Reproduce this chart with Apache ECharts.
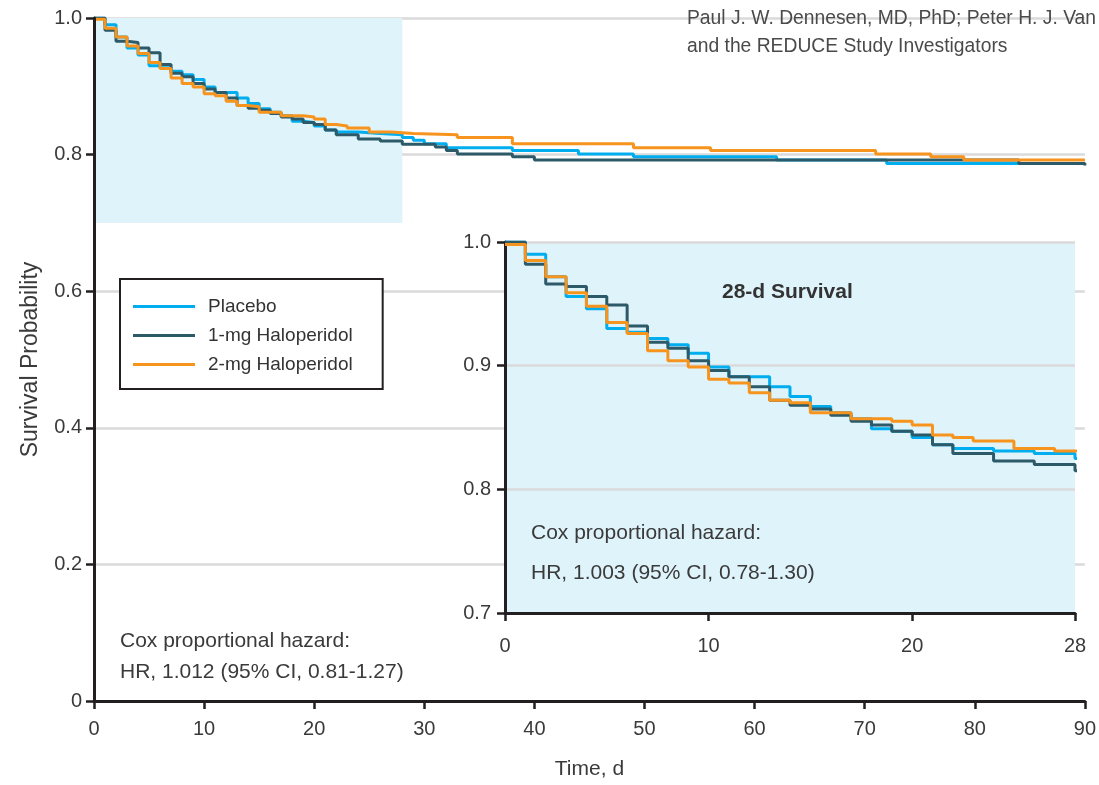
<!DOCTYPE html>
<html>
<head>
<meta charset="utf-8">
<script src="https://cdn.jsdelivr.net/npm/echarts@6/dist/echarts.min.js"></script>
<style>
html,body{margin:0;padding:0;background:#fff;}
#c{width:1099px;height:785px;}
</style>
</head>
<body>
<div id="c"></div>
<script>
// ---- data ----
const seriesNames = ['Placebo', '1-mg Haloperidol', '2-mg Haloperidol'];

const placeboT = [0,1,2,3,4,5,6,7,8,9,10,11,13,14,15,16,17,18,19,20,21,22,24,26,28,29,30,32,38,44,49,62,72,90];
const placeboS = [1.000,0.990,0.972,0.956,0.946,0.930,0.927,0.922,0.917,0.910,0.899,0.891,0.883,0.875,0.867,0.862,0.857,0.849,0.847,0.842,0.836,0.833,0.831,0.829,0.825,0.821,0.816,0.810,0.806,0.801,0.797,0.792,0.787,0.787];

const halo1T = [0,1,2,3,4,5,6,7,8,9,10,11,12,13,14,15,16,17,18,19,20,21,22,24,26,28,31,32,33,38,40,84,90];
const halo1S = [1.000,0.982,0.966,0.964,0.956,0.949,0.932,0.919,0.914,0.904,0.896,0.891,0.883,0.872,0.868,0.865,0.860,0.855,0.852,0.847,0.844,0.836,0.829,0.823,0.820,0.815,0.811,0.806,0.801,0.797,0.792,0.787,0.784];

const halo2T = [0,1,2,3,4,5,6,7,8,9,10,11,12,13,14,15,17,19,20,21,22,23,25,27,29,33,38,49,56,71,76,79,90];
const halo2S = [0.998,0.985,0.972,0.959,0.948,0.935,0.926,0.912,0.904,0.899,0.889,0.886,0.878,0.872,0.870,0.862,0.857,0.855,0.852,0.844,0.842,0.839,0.833,0.831,0.829,0.825,0.816,0.810,0.806,0.801,0.797,0.792,0.791];

const mainXTicks = [0, 90, 10];      // min, max, interval
const mainYTicks = [0, 1, 0.2];
const insetXTicks = [0, 28, 10];
const insetYTicks = [0.7, 1.0, 0.1];
const shadeX = [0, 28];
const shadeY = [0.7, 1.0];

const headerLines = ['Paul J. W. Dennesen, MD, PhD; Peter H. J. Van', 'and the REDUCE Study Investigators'];
const mainCox = ['Cox proportional hazard:', 'HR, 1.012 (95% CI, 0.81-1.27)'];
const insetCox = ['Cox proportional hazard:', 'HR, 1.003 (95% CI, 0.78-1.30)'];
const insetTitle = '28-d Survival';

// ---- styling ----
const colors = ['#00aeef', '#2d5a68', '#f7941d'];
const FONT = "'Liberation Sans', Arial, sans-serif";
const AXIS = '#231f20';
const LABEL = '#3a3a3a';
const GRIDC = '#dadada';

const pairs = (t, s) => t.map((v, i) => [v, s[i]]);
const allData = [pairs(placeboT, placeboS), pairs(halo1T, halo1S), pairs(halo2T, halo2S)];

const fmt = v => (v === 0 ? '0' : v.toFixed(1));

function axisCommon(extra) {
  return Object.assign({
    type: 'value',
    axisLine: { show: true, onZero: false, lineStyle: { color: AXIS, width: 3 } },
    axisTick: { show: true, length: 8, lineStyle: { color: AXIS, width: 2.5 } },
    axisLabel: { color: LABEL, fontSize: 20, fontFamily: FONT },
    splitLine: { show: false },
    nameTextStyle: { color: LABEL, fontSize: 21, fontFamily: FONT }
  }, extra);
}

const chart = echarts.init(document.getElementById('c'), null, { renderer: 'canvas' });

const series = [];
// shaded 28-day window on the main chart
series.push({
  type: 'line', xAxisIndex: 0, yAxisIndex: 0, data: [], z: 1, silent: true,
  markArea: {
    silent: true,
    itemStyle: { color: '#dff3fb' },
    data: [[{ xAxis: shadeX[0], yAxis: shadeY[0] }, { xAxis: shadeX[1], yAxis: shadeY[1] }]]
  }
});
// main curves
allData.forEach((d, i) => series.push({
  name: seriesNames[i], type: 'line', step: 'end', data: d,
  xAxisIndex: 0, yAxisIndex: 0, symbol: 'none', z: 2,
  lineStyle: { color: colors[i], width: 3 }, itemStyle: { color: colors[i] }
}));
// inset curves
allData.forEach((d, i) => series.push({
  name: seriesNames[i], type: 'line', step: 'end', data: d, clip: true,
  xAxisIndex: 1, yAxisIndex: 2, symbol: 'none', z: 3,
  lineStyle: { color: colors[i], width: 3 }, itemStyle: { color: colors[i] }
}));

const txt = (left, top, text, extra) => ({
  type: 'text', left: left, top: top, z: 10,
  style: Object.assign({ text: text, fill: LABEL, font: '21px ' + FONT }, extra || {})
});

chart.setOption({
  animation: false,
  backgroundColor: '#ffffff',
  grid: [
    { left: 94, top: 18, width: 995, height: 686, z: 0 },
    { left: 505, top: 242, width: 570, height: 371, show: true, backgroundColor: '#dff3fb', borderWidth: 0, z: 1 }
  ],
  xAxis: [
    axisCommon({ gridIndex: 0, z: 3, min: mainXTicks[0], max: mainXTicks[1], interval: mainXTicks[2],
      name: 'Time, d', nameLocation: 'middle', nameGap: 58,
      axisLabel: { color: LABEL, fontSize: 20, fontFamily: FONT, margin: 18 } }),
    axisCommon({ gridIndex: 1, z: 2, min: insetXTicks[0], max: insetXTicks[1], interval: insetXTicks[2],
      axisLabel: { color: LABEL, fontSize: 20, fontFamily: FONT, margin: 23 } })
  ],
  yAxis: [
    axisCommon({ gridIndex: 0, z: 3, min: mainYTicks[0], max: mainYTicks[1], interval: mainYTicks[2],
      name: 'Survival Probability', nameLocation: 'middle', nameGap: 52,
      nameTextStyle: { color: LABEL, fontSize: 23, fontFamily: FONT },
      axisLabel: { color: LABEL, fontSize: 20, fontFamily: FONT, margin: 12, formatter: fmt } }),
    { type: 'value', gridIndex: 0, z: 0, min: mainYTicks[0], max: mainYTicks[1], interval: mainYTicks[2],
      axisLine: { show: false }, axisTick: { show: false }, axisLabel: { show: false },
      splitLine: { show: true, lineStyle: { color: GRIDC, width: 2.5 } } },
    axisCommon({ gridIndex: 1, z: 2, min: insetYTicks[0], max: insetYTicks[1], interval: insetYTicks[2],
      axisLabel: { color: LABEL, fontSize: 20, fontFamily: FONT, margin: 14, formatter: fmt },
      splitLine: { show: true, lineStyle: { color: GRIDC, width: 2.5 } } })
  ],
  legend: {
    data: seriesNames, orient: 'vertical', left: 120, top: 279,
    padding: [18, 30, 15, 13], itemGap: 10, itemWidth: 62, itemHeight: 3, icon: 'rect',
    borderColor: AXIS, borderWidth: 2, backgroundColor: '#ffffff', borderRadius: 0,
    textStyle: { fontSize: 19, color: '#333', fontFamily: FONT, padding: [0, 0, 0, 8] }
  },
  graphic: [
    txt(687, 9, headerLines[0], { fill: '#4a4a4a', font: '19.3px ' + FONT }),
    txt(687, 37, headerLines[1], { fill: '#4a4a4a', font: '19.3px ' + FONT }),
    txt(120, 631, mainCox[0]),
    txt(120, 662, mainCox[1]),
    txt(531, 523, insetCox[0]),
    txt(531, 563, insetCox[1]),
    txt(722, 282, insetTitle, { font: 'bold 21px ' + FONT, fill: '#333' })
  ],
  series: series
});
</script>
</body>
</html>
